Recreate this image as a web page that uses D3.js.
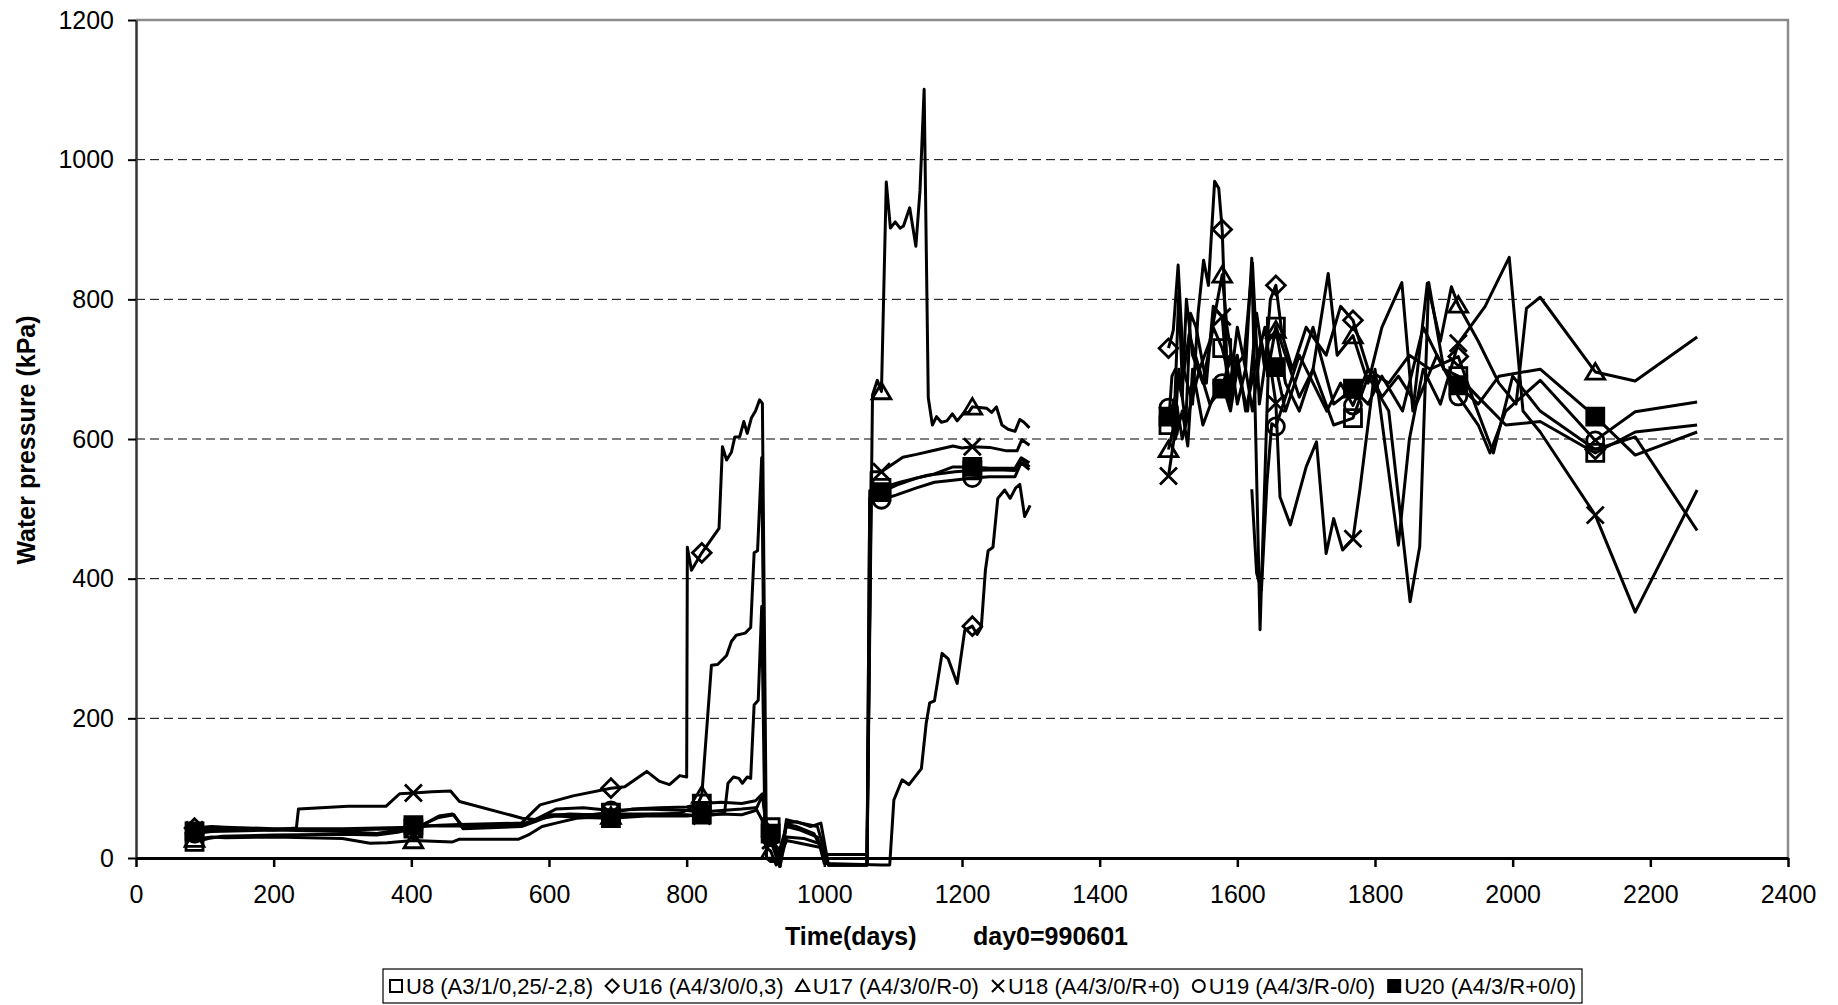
<!DOCTYPE html>
<html>
<head>
<meta charset="utf-8">
<script src="https://cdn.jsdelivr.net/npm/d3@7"></script>
<style>
  body { margin: 0; background: #fff; }
  text { font-family: "Liberation Sans", Arial, sans-serif; fill: #000; }
</style>
</head>
<body>
<svg id="chart" width="1838" height="1005"></svg>
<script>
// ---- data (day, kPa); null = gap in the record ----
const xTicks = [0, 200, 400, 600, 800, 1000, 1200, 1400, 1600, 1800, 2000, 2200, 2400];
const yTicks = [0, 200, 400, 600, 800, 1000, 1200];
const markerDays = [85, 403, 690, 822, 922, 1083, 1215, 1500, 1578, 1656, 1768, 1921, 2120];

const seriesNames = ['U8 (A3/1/0,25/-2,8)', 'U16 (A4/3/0/0,3)', 'U17 (A4/3/0/R-0)',
                     'U18 (A4/3/0/R+0)', 'U19 (A4/3/R-0/0)', 'U20 (A4/3/R+0/0)'];
const seriesSymbols = ['square', 'diamond', 'triangle', 'cross', 'circle', 'filled'];

const u8 = [[85,23],[105,28],[125,31],[200,33],[300,34],[350,33],[380,37],[403,42],[440,58],[462,62],[475,42],
  [560,45],[580,52],[600,60],[630,63],[660,62],[690,65],[720,70],[760,72],[800,73],[822,78],[850,80],[880,78],
  [900,82],[910,92],[916,50],[922,44],[936,-12],[945,50],[960,52],[980,45],[995,50],[1006,-10],[1062,-10],
  [1066,526],[1083,530],[1110,538],[1150,548],[1190,553],[1215,555],[1250,556],[1277,555],[1286,572],[1298,560],
  null,
  [1500,620],[1505,690],[1510,700],[1520,660],[1526,800],[1535,720],[1550,680],[1565,760],[1578,730],[1590,680],
  [1600,760],[1612,700],[1621,859],[1633,327],[1645,700],[1656,761],[1670,720],[1690,660],[1710,700],[1740,620],
  [1768,630],[1790,690],[1820,640],[1851,367],[1865,446],[1878,824],[1900,700],[1921,690],[1950,660],[1990,620],
  [2040,625],[2120,580],[2178,610],[2268,620]];

const u16 = [[85,43],[110,45],[130,44],[200,42],[300,42],[350,43],[403,44],[440,47],[470,48],[560,50],[587,76],
  [635,89],[690,100],[710,102],[742,124],[760,110],[775,105],[790,118],[800,116],[801,445],[807,412],[822,437],
  [847,472],[852,589],[858,570],[865,581],[870,603],[877,603],[883,625],[888,608],[894,630],[900,640],[906,656],
  [910,651],[916,0],[922,-5],[930,-5],[945,45],[965,40],[990,30],[1000,-8],[1083,-10],[1095,-10],[1101,83],
  [1113,112],[1123,105],[1141,128],[1148,193],[1153,222],[1160,225],[1171,293],[1180,285],[1193,250],[1204,326],
  [1215,332],[1222,320],[1228,330],[1234,412],[1238,440],[1245,445],[1252,515],[1262,527],[1270,515],[1278,530],
  [1284,535],[1291,489],[1299,505],
  null,
  [1500,730],[1507,756],[1514,849],[1522,700],[1535,650],[1543,780],[1551,856],[1558,820],[1567,969],[1573,959],
  [1578,900],[1585,700],[1595,720],[1605,680],[1615,640],[1628,780],[1640,700],[1648,800],[1656,820],[1665,750],
  [1680,700],[1700,760],[1729,720],[1750,790],[1768,770],[1790,700],[1820,680],[1850,720],[1880,700],[1921,718],
  [1945,650],[1972,580],[2000,690],[2040,640],[2120,585],[2178,603],[2268,469]];

const u17 = [[85,27],[110,30],[130,29],[200,30],[300,28],[340,21],[365,22],[403,25],[460,23],[470,27],[556,27],
  [570,33],[590,45],[610,50],[640,57],[690,60],[730,62],[790,64],[815,75],[822,90],[836,276],[845,277],[858,290],
  [865,310],[872,319],[885,322],[893,330],[898,437],[903,440],[909,573],[915,15],[922,10],[930,-10],[945,25],
  [970,20],[995,15],[1006,-10],[1062,-10],[1070,663],[1077,684],[1083,668],[1090,968],[1096,902],[1103,911],
  [1110,902],[1115,905],[1124,931],[1133,876],[1139,956],[1145,1101],[1151,659],[1157,620],[1163,632],[1170,624],
  [1178,626],[1186,636],[1193,626],[1204,639],[1209,637],[1215,646],[1225,645],[1236,644],[1243,638],[1250,646],
  [1258,620],[1267,614],[1277,611],[1284,628],[1290,624],[1298,616],
  null,
  [1500,585],[1508,620],[1515,810],[1520,680],[1530,750],[1545,700],[1560,740],[1578,835],[1585,760],[1595,700],
  [1610,720],[1622,852],[1632,650],[1645,740],[1656,756],[1670,680],[1690,640],[1710,700],[1732,837],[1745,720],
  [1768,748],[1790,680],[1810,760],[1839,824],[1855,640],[1876,823],[1895,740],[1911,818],[1921,792],[1950,740],
  [1980,680],[2005,650],[2020,787],[2040,803],[2120,696],[2178,683],[2268,746]];

const u18 = [[85,40],[120,42],[200,40],[233,43],[236,70],[308,74],[363,74],[383,92],[403,93],[430,95],[457,96],
  [470,81],[561,57],[580,55],[600,62],[650,62],[690,63],[750,63],[800,62],[822,60],[840,62],[855,64],[860,107],
  [868,116],[876,114],[881,107],[888,116],[893,114],[898,219],[904,226],[909,360],[914,20],[922,25],[935,-12],
  [945,30],[970,28],[995,20],[1006,-10],[1062,-10],[1068,553],[1083,553],[1114,574],[1134,578],[1160,584],
  [1187,590],[1200,587],[1215,589],[1240,588],[1265,583],[1280,583],[1287,599],[1298,591],
  null,
  [1500,547],[1508,600],[1515,700],[1525,620],[1532,780],[1540,760],[1555,680],[1565,790],[1578,775],[1588,650],
  [1600,720],[1612,640],[1625,700],[1640,760],[1656,651],[1662,517],[1677,477],[1700,560],[1715,596],[1729,436],
  [1740,486],[1753,441],[1768,457],[1778,527],[1800,700],[1834,448],[1850,600],[1870,700],[1895,650],[1921,737],
  [1960,790],[1995,860],[2015,640],[2040,610],[2120,491],[2178,352],[2268,527]];

const u19 = [[85,35],[110,38],[200,40],[300,38],[350,35],[380,40],[403,40],[440,60],[460,63],[475,45],[560,48],
  [580,55],[610,70],[650,72],[690,68],[740,70],[800,68],[822,66],[850,68],[880,70],[900,72],[912,50],[922,30],
  [935,-12],[945,55],[965,50],[990,45],[1006,-10],[1062,-10],[1066,515],[1083,513],[1105,520],[1134,530],
  [1160,538],[1187,541],[1215,544],[1240,546],[1277,546],[1286,566],[1298,556],
  null,
  [1500,645],[1510,600],[1520,640],[1528,590],[1535,700],[1550,620],[1565,660],[1578,680],[1590,640],[1600,700],
  null,
  [1621,528],[1628,408],[1635,384],[1643,537],[1650,622],[1656,618],[1670,660],[1690,720],[1710,680],[1730,640],
  [1750,680],[1768,648],[1790,700],[1810,660],[1834,690],[1860,650],[1890,720],[1921,661],[1950,620],[1967,580],
  [1990,640],[2040,684],[2120,598],[2178,639],[2268,653]];

const u20 = [[85,38],[110,40],[200,41],[300,40],[380,42],[403,47],[440,46],[470,46],[560,47],[580,55],[610,60],
  [650,58],[690,57],[740,60],[800,60],[822,62],[850,63],[880,62],[900,68],[910,90],[916,40],[922,35],[935,-5],
  [945,48],[960,45],[985,35],[1000,5],[1062,5],[1068,524],[1083,524],[1105,534],[1134,544],[1160,550],[1187,560],
  [1215,560],[1240,558],[1277,558],[1286,573],[1298,566],
  null,
  [1500,632],[1510,660],[1520,600],[1530,640],[1545,700],[1560,650],[1578,672],[1590,720],[1600,650],[1612,700],
  [1622,640],[1635,740],[1645,690],[1656,703],[1670,640],[1690,700],[1710,760],[1740,650],[1768,672],[1790,650],
  [1810,690],[1840,640],[1870,760],[1900,700],[1921,677],[1950,650],[1980,690],[2040,700],[2120,632],[2178,577],
  [2268,610]];

const allSeries = [u8, u16, u17, u18, u19, u20];

// ---- chart ----
const svg = d3.select('#chart');
const x = d3.scaleLinear().domain([0, 2400]).range([136, 1788]);
const y = d3.scaleLinear().domain([0, 1200]).range([858, 20]);
const font = '"Liberation Sans", Arial, sans-serif';

// dashed gridlines
svg.append('g').selectAll('line')
  .data(yTicks.filter(t => t > 0 && t < 1200))
  .enter().append('line')
  .attr('x1', x(0)).attr('x2', x(2400))
  .attr('y1', d => y(d)).attr('y2', d => y(d))
  .attr('stroke', '#000').attr('stroke-width', 1)
  .attr('stroke-dasharray', '9,5');

// grey plot border (top and right)
svg.append('path')
  .attr('d', `M${x(0)},${y(1200)}H${x(2400)}V${y(0)}`)
  .attr('fill', 'none').attr('stroke', '#8c8c8c').attr('stroke-width', 2.5);

const yAxis = d3.axisLeft(y).tickValues(yTicks).tickFormat(d3.format('d'))
  .tickSize(8).tickSizeOuter(0).tickPadding(14);
const gy = svg.append('g').attr('transform', `translate(${x(0)},0)`).call(yAxis)
  .attr('font-size', 25).attr('font-family', font);
gy.select('.domain').attr('stroke', '#333').attr('stroke-width', 2.5);
gy.selectAll('.tick line').attr('stroke', '#000').attr('stroke-width', 2);

const xAxis = d3.axisBottom(x).tickValues(xTicks).tickFormat(d3.format('d'))
  .tickSize(9).tickSizeOuter(0).tickPadding(18);
const gx = svg.append('g').attr('transform', `translate(0,${y(0)})`).call(xAxis)
  .attr('font-size', 25).attr('font-family', font);
gx.select('.domain').attr('stroke', '#000').attr('stroke-width', 3);
gx.selectAll('.tick line').attr('stroke', '#000').attr('stroke-width', 2.5);

// marker shapes
function markerPath(type, h) {
  if (type === 'square' || type === 'filled') return `M${-h},${-h}H${h}V${h}H${-h}Z`;
  if (type === 'diamond') return `M0,${-h * 1.1}L${h * 1.1},0L0,${h * 1.1}L${-h * 1.1},0Z`;
  if (type === 'triangle') return `M0,${-h}L${h * 1.1},${h * 0.85}L${-h * 1.1},${h * 0.85}Z`;
  if (type === 'cross') return `M${-h},${-h}L${h},${h}M${h},${-h}L${-h},${h}`;
  return d3.arc()({innerRadius: 0, outerRadius: h, startAngle: 0, endAngle: 2 * Math.PI});
}

const line = d3.line()
  .defined(d => d !== null)
  .x(d => x(d[0]))
  .y(d => y(d[1]));

allSeries.forEach((data, i) => {
  const g = svg.append('g');
  g.append('path')
    .datum(data)
    .attr('d', line)
    .attr('fill', 'none')
    .attr('stroke', '#000')
    .attr('stroke-width', 3)
    .attr('stroke-linejoin', 'round');

  // Add markers
  g.selectAll('path.mk')
    .data(data.filter(d => d !== null && d[1] > 0 && markerDays.includes(d[0])))
    .enter().append('path')
    .attr('class', 'mk')
    .attr('transform', d => `translate(${x(d[0])},${y(d[1])})`)
    .attr('d', markerPath(seriesSymbols[i], 8.5))
    .attr('fill', seriesSymbols[i] === 'filled' ? '#000' : 'none')
    .attr('stroke', '#000')
    .attr('stroke-width', 2.8);
});

// axis titles
svg.append('text')
  .attr('transform', 'translate(35,440) rotate(-90)')
  .attr('text-anchor', 'middle')
  .attr('font-size', 25).attr('font-weight', 'bold')
  .text('Water pressure (kPa)');

svg.append('text').attr('x', 785).attr('y', 945)
  .attr('font-size', 25).attr('font-weight', 'bold').text('Time(days)');
svg.append('text').attr('x', 973).attr('y', 945)
  .attr('font-size', 25).attr('font-weight', 'bold').text('day0=990601');

// legend
const legend = svg.append('g');
const boxX = 383, boxY = 969, boxW = 1199, boxH = 34;
legend.append('rect')
  .attr('x', boxX).attr('y', boxY).attr('width', boxW).attr('height', boxH)
  .attr('fill', '#fff').attr('stroke', '#000').attr('stroke-width', 1.2);

const items = seriesNames.map((name, i) => {
  const it = legend.append('g');
  it.append('path')
    .attr('d', markerPath(seriesSymbols[i], 6))
    .attr('transform', 'translate(7,0)')
    .attr('fill', seriesSymbols[i] === 'filled' ? '#000' : 'none')
    .attr('stroke', '#000').attr('stroke-width', 2);
  const t = it.append('text').attr('x', 17).attr('y', 8).attr('font-size', 22).text(name);
  return {g: it, w: 17 + t.node().getComputedTextLength()};
});
const totalW = d3.sum(items, d => d.w);
const gap = (boxW - 12 - totalW) / (items.length - 1);
let cx = boxX + 6;
items.forEach(it => {
  it.g.attr('transform', `translate(${cx},${boxY + boxH / 2})`);
  cx += it.w + gap;
});
</script>
</body>
</html>
